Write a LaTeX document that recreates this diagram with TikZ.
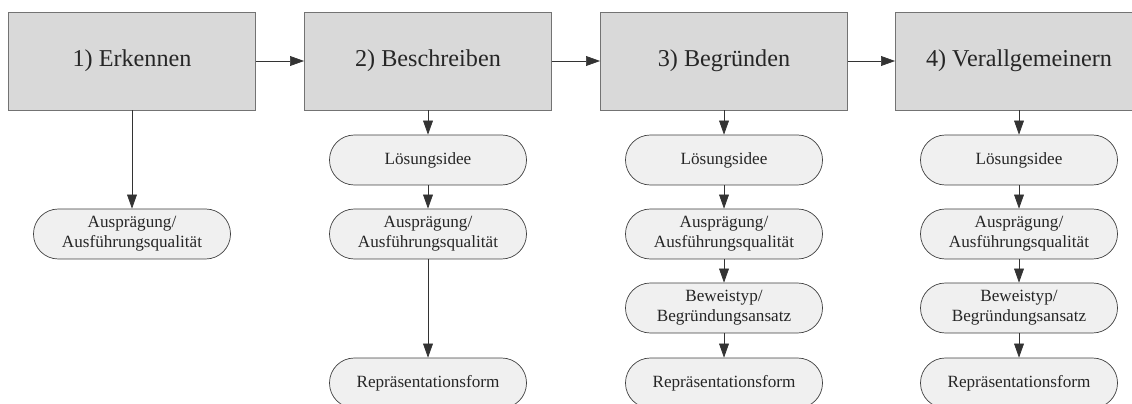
\documentclass[tikz,border=0pt]{standalone}
\usepackage{fontspec}
\setmainfont{Liberation Serif}
\usetikzlibrary{arrows.meta}

\tikzset{
	phase/.style={draw=black!55, fill=black!15, line width=0.6pt, minimum width=6.175cm, minimum height=2.45cm, text=black!85, font=\fontsize{17.2}{20}\selectfont},
	pill/.style={draw=black!75, fill=black!6, line width=0.5pt, rounded corners=0.62cm, minimum width=4.925cm, minimum height=1.25cm, align=center, text=black!85, font=\fontsize{12.2}{14.2}\selectfont},
	pfeil/.style={draw=black!80, line width=0.5pt, -{Triangle[length=10pt, width=7pt]}}
}

\begin{document}
\begin{tikzpicture}
			%%%%% START %%%%%
			
			\useasboundingbox (0, 0) rectangle (28.3, 10.075);
			
			\node[phase] (erkennen) at (3.3, 8.55) {1) Erkennen};
			\node[phase] (beschreiben) at (10.7, 8.55) {2) Beschreiben};
			\node[phase] (begruenden) at (18.1, 8.55) {3) Begründen};
			\node[phase] (verallg) at (25.475, 8.55) {4) Verallgemeinern};
			
			\draw[pfeil] (erkennen) -- (beschreiben);
			\draw[pfeil] (beschreiben) -- (begruenden);
			\draw[pfeil] (begruenden) -- (verallg);
			
			% 1) Erkennen
			\node[pill] (ausp1) at (3.3, 4.225) {Ausprägung/\\Ausführungsqualität};
			\draw[pfeil] (erkennen) -- (ausp1);
			
			% 2) Beschreiben
			\node[pill] (idee2) at (10.7, 6.075) {Lösungsidee};
			\node[pill] (ausp2) at (10.7, 4.225) {Ausprägung/\\Ausführungsqualität};
			\node[pill] (repr2) at (10.7, 0.5) {Repräsentationsform};
			\draw[pfeil] (beschreiben) -- (idee2);
			\draw[pfeil] (idee2) -- (ausp2);
			\draw[pfeil] (ausp2) -- (repr2);
			
			% 3) Begruenden
			\node[pill] (idee3) at (18.1, 6.075) {Lösungsidee};
			\node[pill] (ausp3) at (18.1, 4.225) {Ausprägung/\\Ausführungsqualität};
			\node[pill] (bew3) at (18.1, 2.375) {Beweistyp/\\Begründungsansatz};
			\node[pill] (repr3) at (18.1, 0.5) {Repräsentationsform};
			\draw[pfeil] (begruenden) -- (idee3);
			\draw[pfeil] (idee3) -- (ausp3);
			\draw[pfeil] (ausp3) -- (bew3);
			\draw[pfeil] (bew3) -- (repr3);
			
			% 4) Verallgemeinern
			\node[pill] (idee4) at (25.475, 6.075) {Lösungsidee};
			\node[pill] (ausp4) at (25.475, 4.225) {Ausprägung/\\Ausführungsqualität};
			\node[pill] (bew4) at (25.475, 2.375) {Beweistyp/\\Begründungsansatz};
			\node[pill] (repr4) at (25.475, 0.5) {Repräsentationsform};
			\draw[pfeil] (verallg) -- (idee4);
			\draw[pfeil] (idee4) -- (ausp4);
			\draw[pfeil] (ausp4) -- (bew4);
			\draw[pfeil] (bew4) -- (repr4);
			
			%%%%% END %%%%%
		\end{tikzpicture}
\end{document}
